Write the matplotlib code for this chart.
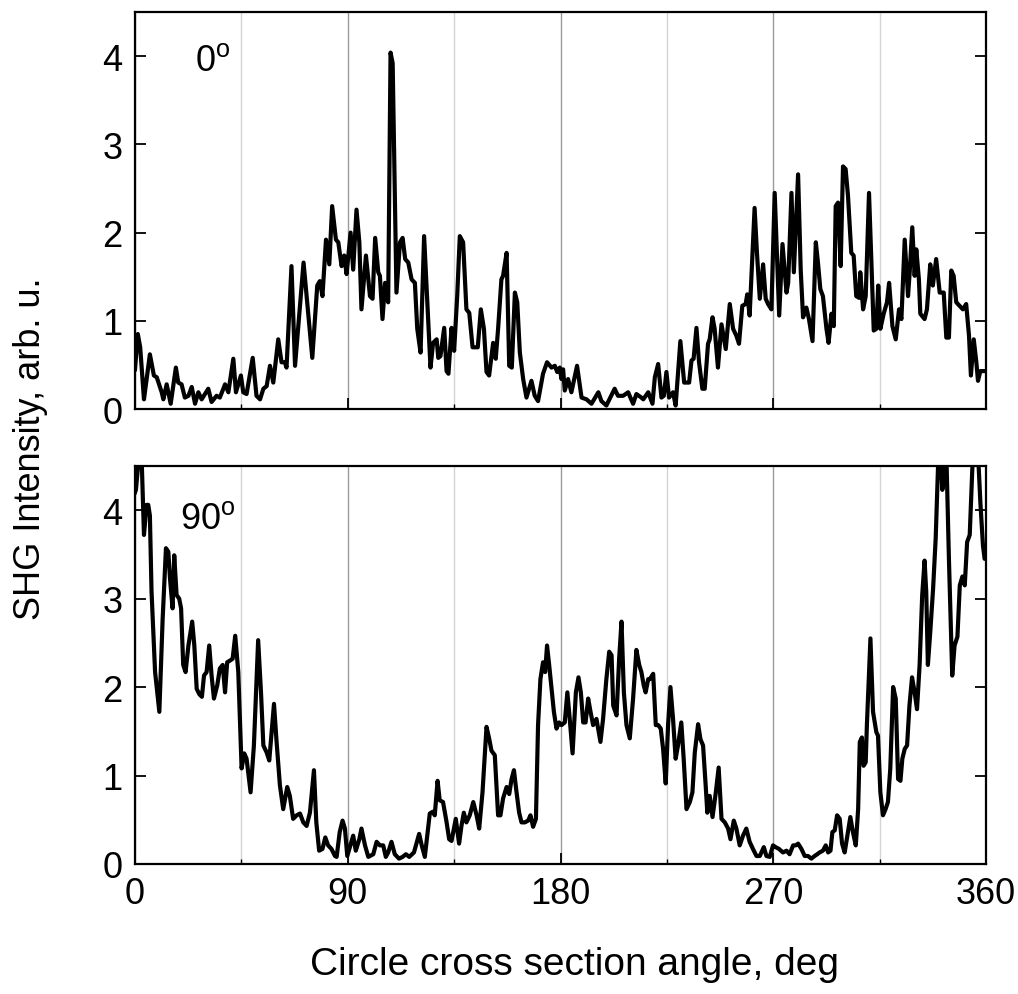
import matplotlib

matplotlib.use("Agg")
import matplotlib.pyplot as plt
from matplotlib.ticker import MultipleLocator

# SHG intensity vs circle cross-section angle
top_angle = [0, 1.2, 2.2, 3.8, 6.3, 8.0, 9.2, 11.3, 12.0, 13.4, 15.1, 17.3, 18.3, 19.7, 21.1, 22.6,
             24.0, 25.4, 26.8, 28.2, 31.0, 32.4, 34.5, 35.9, 38.1, 39.5, 41.6, 42.7, 44.8, 45.8,
             47.2, 49.8, 51.4, 52.9, 54.3, 55.7, 57.1, 58.5, 60.6, 62.0, 63.4, 64.1, 66.2, 67.7,
             71.3, 75.0, 77.1, 78.2, 79.3, 80.8, 82.2, 83.4, 85.0, 86.0, 87.4, 88.5, 89.5, 91.2,
             92.3, 93.7, 94.9, 95.8, 97.7, 99.4, 100.5, 101.6, 102.9, 103.6, 104.7, 105.8, 107.1,
             108.1, 109.0, 110.6, 112.1, 113.2, 114.3, 115.6, 117.0, 118.4, 119.4, 120.8, 122.3,
             123.6, 125.0, 126.1, 127.6, 128.3, 129.2, 130.8, 131.8, 132.6, 133.9, 135.0, 136.3,
             137.4, 138.8, 140.2, 141.4, 142.8, 145.0, 146.3, 147.6, 148.7, 149.8, 151.5, 152.6,
             153.6, 155.0, 155.7, 157.2, 158.3, 159.4, 160.7, 161.7, 162.8, 164.2, 165.6, 167.7,
             169.1, 170.5, 172.6, 174.3, 176.2, 177.6, 178.6, 179.7, 180.4, 181.1, 181.8, 183.2,
             184.6, 187.0, 188.9, 191.0, 193.1, 196.0, 197.3, 199.4, 202.9, 204.3, 206.5, 208.6,
             210.7, 212.1, 214.2, 215.0, 217.1, 218.9, 219.9, 221.3, 222.7, 223.7, 224.8, 225.9,
             227.6, 228.7, 230.7, 232.3, 234.4, 235.4, 236.3, 237.5, 238.6, 240.0, 241.0, 242.4,
             243.1, 244.3, 245.2, 246.6, 248.1, 249.9, 251.6, 253.0, 254.4, 255.5, 256.9, 258.3,
             259.0, 260.0, 262.1, 263.1, 264.3, 265.7, 266.8, 267.8, 269.2, 270.6, 272.5, 273.9,
             275.6, 276.3, 277.7, 278.7, 280.5, 281.6, 282.6, 284.0, 285.1, 286.6, 288.0, 288.9,
             289.9, 291.0, 292.5, 293.4, 294.6, 295.6, 296.4, 297.4, 298.5, 299.5, 300.6, 301.6,
             303.0, 304.0, 305.1, 306.3, 306.8, 308.0, 309.1, 310.5, 311.5, 312.5, 313.6, 314.4,
             315.3, 316.7, 318.1, 319.0, 320.4, 321.8, 323.2, 324.2, 325.6, 327.0, 327.7, 328.8,
             329.8, 330.5, 331.6, 332.2, 334.0, 335.0, 336.4, 337.5, 338.9, 340.4, 342.1, 343.2,
             344.3, 345.3, 346.3, 347.4, 348.8, 350.2, 351.6, 352.8, 353.6, 354.8, 355.9, 356.6,
             357.6, 360]
top_value = [0.45, 0.85, 0.70, 0.11, 0.62, 0.38, 0.36, 0.19, 0.11, 0.28, 0.06, 0.47, 0.30, 0.28, 0.13, 0.15,
             0.25, 0.06, 0.19, 0.11, 0.23, 0.08, 0.15, 0.13, 0.28, 0.19, 0.57, 0.19, 0.38, 0.19,
             0.17, 0.58, 0.15, 0.11, 0.23, 0.26, 0.49, 0.30, 0.79, 0.53, 0.53, 0.47, 1.62, 0.49,
             1.66, 0.58, 1.40, 1.45, 1.28, 1.92, 1.64, 2.30, 1.92, 1.89, 1.62, 1.74, 1.53, 2.00,
             1.58, 2.26, 1.89, 1.13, 1.74, 1.28, 1.25, 1.94, 1.55, 1.51, 1.02, 1.43, 1.21,
             4.04, 3.92, 1.32, 1.89, 1.94, 1.70, 1.66, 1.47, 1.43, 0.91, 0.64, 1.96,
             1.25, 0.47, 0.75, 0.79, 0.58, 0.60, 0.92, 0.43, 0.40, 0.92, 0.66, 1.28,
             1.96, 1.89, 1.13, 1.09, 0.70, 0.70, 1.13, 0.91, 0.42, 0.38, 0.75, 0.57,
             0.91, 1.47, 1.51, 1.77, 0.49, 0.47, 1.32, 1.21, 0.64, 0.34, 0.13, 0.32,
             0.15, 0.09, 0.40, 0.53, 0.47, 0.49, 0.42, 0.47, 0.34, 0.45, 0.21, 0.34,
             0.19, 0.49, 0.13, 0.11, 0.06, 0.19, 0.09, 0.04, 0.23, 0.15, 0.15, 0.19,
             0.06, 0.17, 0.13, 0.11, 0.19, 0.06, 0.36, 0.51, 0.13, 0.15, 0.42, 0.13,
             0.19, 0.04, 0.77, 0.30, 0.30, 0.55, 0.57, 0.92, 0.53, 0.23, 0.23, 0.74,
             0.79, 1.04, 0.91, 0.47, 0.96, 0.68, 1.19, 0.91, 0.83, 0.74, 1.17, 1.19,
             1.30, 1.06, 2.28, 1.77, 1.25, 1.64, 1.25, 1.19, 1.13, 2.45, 1.06, 1.87,
             1.32, 1.43, 2.45, 1.55, 2.66, 1.58, 1.04, 1.15, 1.02, 0.77, 1.89, 1.66,
             1.36, 1.28, 0.91, 0.75, 1.08, 0.94, 2.30, 2.34, 1.62, 2.75, 2.72, 2.42,
             1.77, 1.74, 1.28, 1.26, 1.55, 1.13, 1.28, 2.45, 1.66, 0.89, 0.91, 1.40,
             0.91, 1.08, 1.21, 1.43, 0.94, 0.79, 1.13, 1.02, 1.92, 1.28, 1.55, 2.06,
             1.51, 1.81, 1.47, 1.08, 1.02, 1.13, 1.64, 1.40, 1.70, 1.32, 1.32, 0.81,
             0.81, 1.57, 1.51, 1.21, 1.17, 1.13, 1.19, 0.83, 0.38, 0.79, 0.53, 0.32,
             0.43, 0.43]

bottom_angle = [0, 0.4, 1.8, 2.8, 3.8, 4.9, 5.6, 6.3, 7.0, 8.5, 10.3, 11.7, 13.1, 14.1, 14.8, 15.9,
                16.6, 17.6, 18.7, 19.5, 20.4, 21.4, 22.6, 24.2, 25.1, 26.1, 27.2, 28.3, 29.2, 30.3,
                31.4, 32.4, 33.4, 34.8, 35.9, 37.1, 38.1, 39.0, 40.2, 41.3, 42.4, 43.7, 45.1, 46.2,
                47.2, 48.9, 50.3, 52.1, 53.3, 54.3, 55.7, 56.8, 58.8, 59.9, 61.3, 62.7, 64.4, 65.5,
                66.9, 68.4, 69.8, 71.2, 72.6, 74.0, 75.7, 76.7, 77.9, 79.3, 80.5, 81.7, 83.1, 84.6,
                85.3, 86.6, 87.8, 88.8, 89.8, 90.9, 92.3, 93.4, 94.9, 95.8, 97.3, 98.7, 100.8, 102.2,
                103.6, 105.0, 106.1, 107.1, 108.5, 109.9, 111.7, 113.2, 114.6, 116.0, 118.0, 120.2,
                121.3, 122.6, 124.7, 125.9, 126.8, 128.0, 128.9, 130.3, 131.7, 132.9, 133.9, 135.7,
                137.1, 138.1, 139.1, 140.2, 141.6, 143.1, 144.5, 145.6, 147.0, 148.7, 149.8, 150.8,
                152.2, 153.6, 154.6, 155.7, 157.2, 158.3, 159.3, 160.3, 161.4, 162.5, 163.5, 164.9,
                166.3, 167.3, 168.4, 169.6, 170.5, 171.5, 172.6, 173.5, 174.3, 175.2, 176.2, 177.2,
                178.3, 179.4, 180.4, 181.8, 182.9, 183.9, 185.1, 186.5, 187.6, 188.6, 189.6, 190.6,
                191.7, 192.7, 193.8, 195.2, 195.9, 196.9, 198.0, 199.4, 200.6, 201.6, 202.3, 203.7,
                204.8, 205.8, 206.8, 207.9, 209.3, 210.7, 212.1, 213.3, 214.2, 215.2, 216.0, 217.1,
                217.8, 219.2, 220.3, 221.3, 222.4, 223.4, 224.5, 225.5, 226.5, 227.6, 228.7, 229.7,
                231.1, 232.1, 233.3, 234.7, 235.8, 236.8, 238.2, 239.2, 240.3, 241.4, 242.1, 243.1,
                244.3, 245.7, 246.9, 248.1, 249.5, 250.9, 251.9, 253.3, 254.4, 255.8, 257.2, 258.6,
                260.0, 261.4, 262.9, 264.3, 266.0, 267.1, 268.5, 269.9, 271.0, 272.4, 274.1, 275.6,
                276.9, 278.4, 279.5, 280.5, 281.9, 283.3, 284.7, 286.1, 287.5, 288.6, 289.6, 291.0,
                292.2, 293.2, 294.2, 295.0, 296.0, 297.0, 298.1, 299.1, 300.2, 301.6, 302.6, 303.7,
                304.9, 305.9, 306.6, 307.5, 308.2, 309.1, 309.6, 311.1, 312.2, 313.6, 314.3, 315.3,
                316.4, 317.5, 318.5, 319.5, 320.7, 321.8, 322.8, 323.8, 324.6, 325.6, 326.6, 327.6,
                328.7, 329.8, 330.8, 331.9, 333.0, 334.0, 334.7, 335.4, 336.4, 337.6, 338.7, 339.7,
                340.7, 341.5, 342.5, 343.2, 344.3, 345.7, 346.7, 347.9, 348.9, 350.0, 351.0, 352.0,
                353.1, 354.2, 354.9, 356.6, 357.6, 358.7, 359.4, 360]
bottom_value = [4.20, 4.23, 4.65, 4.60, 3.72, 4.06, 4.06, 3.94, 3.08, 2.17, 1.72, 2.77, 3.57, 3.53, 3.23, 2.89,
                3.49, 3.04, 3.00, 2.89, 2.25, 2.17, 2.47, 2.74, 2.47, 1.98, 1.92, 1.89, 2.13, 2.17,
                2.47, 2.13, 1.87, 2.02, 2.21, 2.25, 1.94, 2.28, 2.30, 2.32, 2.58, 2.17, 1.08, 1.25,
                1.19, 0.81, 1.34, 2.53, 1.94, 1.34, 1.26, 1.17, 1.81, 1.38, 0.89, 0.62, 0.87, 0.77,
                0.51, 0.55, 0.57, 0.47, 0.43, 0.58, 1.06, 0.47, 0.15, 0.17, 0.30, 0.21, 0.17, 0.09,
                0.08, 0.36, 0.49, 0.40, 0.09, 0.19, 0.32, 0.15, 0.28, 0.40, 0.21, 0.08, 0.11, 0.25,
                0.21, 0.21, 0.08, 0.13, 0.25, 0.11, 0.06, 0.08, 0.11, 0.08, 0.13, 0.34,
                0.21, 0.08, 0.57, 0.59, 0.55, 0.94, 0.72, 0.70, 0.49, 0.28, 0.26, 0.51,
                0.23, 0.43, 0.58, 0.47, 0.55, 0.70, 0.55, 0.40, 0.81, 1.55, 1.42, 1.28,
                1.23, 0.55, 0.55, 0.74, 0.87, 0.79, 0.96, 1.06, 0.81, 0.58, 0.47, 0.47,
                0.49, 0.55, 0.42, 0.51, 1.57, 2.09, 2.28, 2.17, 2.47, 2.25, 1.98, 1.72,
                1.53, 1.60, 1.57, 1.60, 1.94, 1.64, 1.25, 1.94, 2.11, 1.94, 1.60, 1.60,
                1.87, 1.72, 1.57, 1.64, 1.53, 1.38, 1.64, 2.09, 2.40, 2.36, 1.79, 1.68,
                2.32, 2.74, 1.94, 1.57, 1.42, 1.87, 2.42, 2.25, 2.17, 2.02, 1.94, 2.09,
                2.09, 2.15, 1.57, 1.57, 1.53, 1.30, 0.91, 1.57, 2.00, 1.64, 1.19, 1.34,
                1.60, 1.19, 0.62, 0.70, 0.81, 1.26, 1.58, 1.41, 1.34, 0.89, 0.58, 0.77,
                0.53, 0.81, 1.09, 0.51, 0.47, 0.40, 0.28, 0.49, 0.40, 0.21, 0.32, 0.40,
                0.25, 0.17, 0.09, 0.09, 0.19, 0.09, 0.08, 0.21, 0.19, 0.17, 0.13, 0.15,
                0.11, 0.21, 0.21, 0.23, 0.17, 0.09, 0.09, 0.06, 0.09, 0.11, 0.13, 0.15,
                0.21, 0.13, 0.15, 0.36, 0.38, 0.55, 0.51, 0.23, 0.13, 0.36, 0.53, 0.36,
                0.21, 0.62, 1.38, 1.43, 1.11, 1.15, 1.57, 2.55, 1.72, 1.49, 1.45, 0.81,
                0.55, 0.62, 0.70, 1.08, 2.00, 1.87, 0.96, 0.94, 1.19, 1.30, 1.34, 1.79,
                2.11, 1.94, 1.75, 2.25, 3.04, 3.43, 3.08, 2.25, 2.62, 3.11, 3.68, 4.50,
                4.70, 4.23, 4.40, 4.65, 3.45, 2.13, 2.47, 2.57, 3.15, 3.25, 3.15, 3.64,
                3.72, 4.47, 4.70, 4.65, 4.09, 3.60, 3.45, 3.45]

panel_labels = ["0$^\\mathrm{o}$", "90$^\\mathrm{o}$"]
label_pos = [(0.070, 0.877), (0.053, 0.867)]
x_ticks = [0, 90, 180, 270, 360]

plt.rcParams.update(
    {
        "font.family": ["Liberation Sans", "DejaVu Sans"],
        "mathtext.fontset": "custom",
        "mathtext.rm": "Liberation Sans",
        "font.size": 26,
        "axes.linewidth": 1.6,
    }
)

fig = plt.figure(figsize=(10.18, 9.95), dpi=100)
ax_top = fig.add_axes([0.1326, 0.5879, 0.836, 0.399])
ax_bot = fig.add_axes([0.1326, 0.1307, 0.836, 0.400])

series = [(top_angle, top_value), (bottom_angle, bottom_value)]
for ax, (ang, val), label, pos in zip([ax_top, ax_bot], series, panel_labels, label_pos):
    ax.plot(ang, val, color="black", lw=3.0, solid_joinstyle="round", zorder=3)
    ax.set_xlim(0, 360)
    ax.set_ylim(0, 4.5)
    ax.set_xticks(x_ticks)
    ax.xaxis.set_minor_locator(MultipleLocator(45))
    ax.set_yticks([0, 1, 2, 3, 4])
    ax.grid(True, which="major", axis="x", color="#9a9a9a", lw=1.0, zorder=0)
    ax.grid(True, which="minor", axis="x", color="#d4d4d4", lw=1.0, zorder=0)
    ax.tick_params(axis="y", which="major", direction="in", length=8, width=1.3,
                   left=True, right=True, labelsize=26, pad=9)
    ax.tick_params(axis="x", which="major", direction="in", length=8, width=1.3,
                   top=False, labelsize=26, pad=9)
    ax.tick_params(axis="x", which="minor", direction="in", length=3.5, width=1.0, top=False)
    ax.text(pos[0], pos[1], label, transform=ax.transAxes, fontsize=26, va="center", ha="left")

ax_top.tick_params(axis="x", labelbottom=False)

fig.text(0.03, 0.549, "SHG Intensity, arb. u.", rotation=90, ha="center", va="center", fontsize=26)
fig.text(0.564, 0.03, "Circle cross section angle, deg", ha="center", va="center", fontsize=28)

fig.savefig("out.png", dpi=100)
